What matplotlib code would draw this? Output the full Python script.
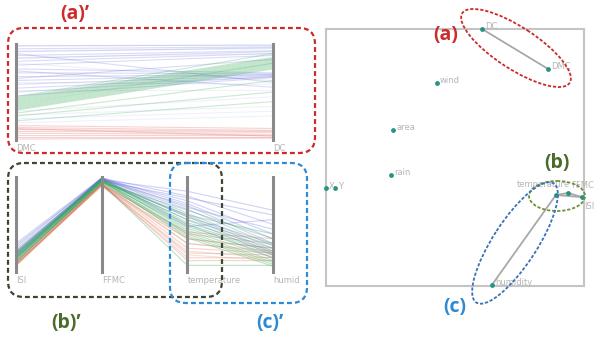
import matplotlib.pyplot as plt
from matplotlib.patches import Ellipse, FancyBboxPatch

W, H = 604, 344

# ---- parallel coordinates (a)': DMC -> DC, normalised 0..1 ----
top_axes = ["DMC", "DC"]
top_blue = [
    [0.98, 0.99], [0.95, 0.97], [0.92, 0.96], [0.88, 0.93], [0.85, 0.92],
    [0.82, 0.90], [0.78, 0.88], [0.74, 0.70], [0.70, 0.69], [0.66, 0.68],
    [0.62, 0.68], [0.58, 0.67], [0.54, 0.66], [0.50, 0.66], [0.46, 0.65],
    [0.90, 0.60], [0.72, 0.55], [0.64, 0.84],
]
top_green = [
    [0.44, 0.86], [0.43, 0.85], [0.42, 0.84], [0.41, 0.83], [0.40, 0.82],
    [0.39, 0.81], [0.38, 0.80], [0.37, 0.80], [0.36, 0.79], [0.35, 0.78],
    [0.34, 0.77], [0.33, 0.76], [0.32, 0.75], [0.31, 0.74], [0.28, 0.62],
    [0.25, 0.50], [0.20, 0.40], [0.45, 0.90],
]
top_red = [
    [0.15, 0.12], [0.13, 0.10], [0.11, 0.09], [0.09, 0.08], [0.07, 0.06],
    [0.05, 0.05], [0.03, 0.03], [0.01, 0.02], [0.12, 0.04],
]
top_faint = [
    [0.99, 0.99], [0.93, 0.95], [0.86, 0.90], [0.80, 0.62], [0.60, 0.58],
    [0.52, 0.52], [0.30, 0.45], [0.26, 0.35], [0.22, 0.30], [0.18, 0.25],
]

# ---- parallel coordinates (b)'/(c)': ISI, FFMC, temperature, humid ----
bot_axes = ["ISI", "FFMC", "temperature", "humid"]
bot_blue = [
    [0.30, 0.99, 0.80, 0.50], [0.28, 0.98, 0.75, 0.40], [0.26, 0.99, 0.72, 0.35],
    [0.24, 0.97, 0.70, 0.30], [0.22, 0.98, 0.66, 0.28], [0.21, 0.99, 0.62, 0.25],
    [0.20, 0.97, 0.60, 0.22], [0.19, 0.98, 0.58, 0.20], [0.18, 0.96, 0.55, 0.18],
    [0.17, 0.99, 0.50, 0.15], [0.16, 0.98, 0.48, 0.55], [0.15, 0.97, 0.85, 0.65],
    [0.14, 0.99, 0.68, 0.45], [0.20, 0.96, 0.78, 0.60],
]
bot_green = [
    [0.22, 0.97, 0.58, 0.30], [0.20, 0.96, 0.55, 0.28], [0.19, 0.98, 0.52, 0.25],
    [0.18, 0.97, 0.50, 0.22], [0.17, 0.95, 0.48, 0.20], [0.16, 0.96, 0.46, 0.18],
    [0.15, 0.97, 0.44, 0.15], [0.14, 0.95, 0.42, 0.12], [0.13, 0.96, 0.40, 0.10],
    [0.12, 0.94, 0.38, 0.08], [0.11, 0.95, 0.60, 0.40], [0.10, 0.96, 0.36, 0.06],
    [0.18, 0.94, 0.65, 0.35], [0.15, 0.93, 0.07, 0.07],
]
bot_red = [
    [0.14, 0.93, 0.40, 0.30], [0.12, 0.92, 0.35, 0.25], [0.11, 0.94, 0.30, 0.22],
    [0.10, 0.93, 0.25, 0.20], [0.09, 0.92, 0.20, 0.18], [0.08, 0.91, 0.15, 0.15],
    [0.07, 0.93, 0.12, 0.12], [0.08, 0.92, 0.42, 0.35],
]
bot_tan = [
    [0.08, 0.92, 0.30, 0.20], [0.07, 0.91, 0.22, 0.15],
    [0.06, 0.92, 0.18, 0.12], [0.09, 0.90, 0.35, 0.25],
]

# ---- projection of the dimensions ----
dim_names = ["DC", "DMC", "wind", "area", "rain", "X", "Y",
             "ISI", "FFMC", "temperature", "humidity"]
dim_x = [0.605, 0.860, 0.430, 0.260, 0.252, 0.000, 0.035, 0.992, 0.938, 0.891, 0.643]
dim_y = [1.000, 0.845, 0.790, 0.607, 0.432, 0.380, 0.380, 0.346, 0.362, 0.354, 0.004]
dim_edges = [("DC", "DMC"), ("ISI", "FFMC"), ("FFMC", "temperature"),
             ("temperature", "humidity"), ("ISI", "temperature")]
# label offsets (dx, dy, ha, va) for the crowded cluster
label_offsets = {"ISI": (0.010, -0.035, "left", "center"),
                 "FFMC": (0.012, 0.030, "left", "center"),
                 "temperature": (-0.150, 0.040, "left", "center")}

CLASS_COLORS = {"blue": "#5560d8", "green": "#2fa84f", "red": "#e06060",
                "tan": "#d9a860", "faint": "#9aa6e6"}
AXIS_GRAY = "#8a8a8a"
LABEL_GRAY = "#b5b5b5"


def px_rect(x0, y0, x1, y1):
    return [x0 / W, 1 - y1 / H, (x1 - x0) / W, (y1 - y0) / H]


def draw_parallel(ax, names, groups):
    n = len(names)
    for rows, color, alpha in groups:
        for r in rows:
            ax.plot(range(n), r, color=color, alpha=alpha, lw=0.8,
                    solid_capstyle="butt")
    for i, name in enumerate(names):
        ax.plot([i, i], [0, 1], color=AXIS_GRAY, lw=2.2, zorder=5,
                clip_on=False)
        ax.text(i, -0.04, name, color=LABEL_GRAY, fontsize=6,
                ha="left", va="top")
    ax.set_xlim(0, n - 1)
    ax.set_ylim(0, 1)
    ax.axis("off")


fig = plt.figure(figsize=(W / 100, H / 100), dpi=100)

ax_top = fig.add_axes(px_rect(16, 44, 273, 140))
draw_parallel(ax_top, top_axes, [
    (top_faint, CLASS_COLORS["faint"], 0.15),
    (top_red, CLASS_COLORS["red"], 0.28),
    (top_blue, CLASS_COLORS["blue"], 0.22),
    (top_green, CLASS_COLORS["green"], 0.25),
])

ax_bot = fig.add_axes(px_rect(16, 177, 273, 272))
draw_parallel(ax_bot, bot_axes, [
    (bot_tan, CLASS_COLORS["tan"], 0.30),
    (bot_red, CLASS_COLORS["red"], 0.28),
    (bot_blue, CLASS_COLORS["blue"], 0.28),
    (bot_green, CLASS_COLORS["green"], 0.32),
])

ax_sc = fig.add_axes(px_rect(326, 29, 584, 286))
pos = {n: (x, y) for n, x, y in zip(dim_names, dim_x, dim_y)}
for a, b in dim_edges:
    ax_sc.plot([pos[a][0], pos[b][0]], [pos[a][1], pos[b][1]],
               color="#a8a8a8", lw=1.3, zorder=2, clip_on=False)
ax_sc.scatter(dim_x, dim_y, s=6, color="#249484", zorder=3, clip_on=False)
for n, x, y in zip(dim_names, dim_x, dim_y):
    dx, dy, ha, va = label_offsets.get(n, (0.012, 0.008, "left", "center"))
    ax_sc.text(x + dx, y + dy, n, color=LABEL_GRAY, fontsize=6,
               ha=ha, va=va, clip_on=False)
ax_sc.set_xlim(0, 1)
ax_sc.set_ylim(0, 1)
ax_sc.set_xticks([])
ax_sc.set_yticks([])
for sp in ax_sc.spines.values():
    sp.set_color("#c4c4c4")
    sp.set_linewidth(1.5)

# ---- overlay with highlight shapes, pixel coordinates ----
ov = fig.add_axes([0, 0, 1, 1])
ov.set_xlim(0, W)
ov.set_ylim(H, 0)
ov.axis("off")
ov.patch.set_alpha(0)

RED, OLIVE, BLUE = "#cc2b2b", "#4b6b2a", "#2f8ad4"
BOX_OLIVE = "#3c4632"
dash = (0, (2.2, 1.4))

boxes = [
    (8, 28, 315, 153, RED),
    (8, 163, 222, 297, BOX_OLIVE),
    (170, 163, 307, 303, BLUE),
]
for x0, y0, x1, y1, c in boxes:
    ov.add_patch(FancyBboxPatch((x0, y0), x1 - x0, y1 - y0,
                                boxstyle="round,pad=0,rounding_size=16",
                                fill=False, ec=c, lw=1.6, ls=dash))

ellipses = [
    ((516, 48), 128, 42, 33, RED),
    ((557, 196), 56, 30, 0, "#6f8f3a"),
    ((515, 243), 142, 44, -57, "#3a72b8"),
]
for center, w, h, ang, c in ellipses:
    ov.add_patch(Ellipse(center, w, h, angle=ang, fill=False, ec=c,
                         lw=1.3, ls=(0, (1.8, 1.0))))

font = dict(fontsize=14, fontweight="bold", ha="center", va="center",
            family=["Open Sans", "DejaVu Sans"])
ov.text(75, 14, "(a)\u2019", color=RED, **font)
ov.text(66, 323, "(b)\u2019", color=OLIVE, **font)
ov.text(270, 323, "(c)\u2019", color=BLUE, **font)
ov.text(446, 35, "(a)", color=RED, **font)
ov.text(557, 163, "(b)", color=OLIVE, **font)
ov.text(455, 307, "(c)", color=BLUE, **font)

fig.savefig("out.png", dpi=100)
